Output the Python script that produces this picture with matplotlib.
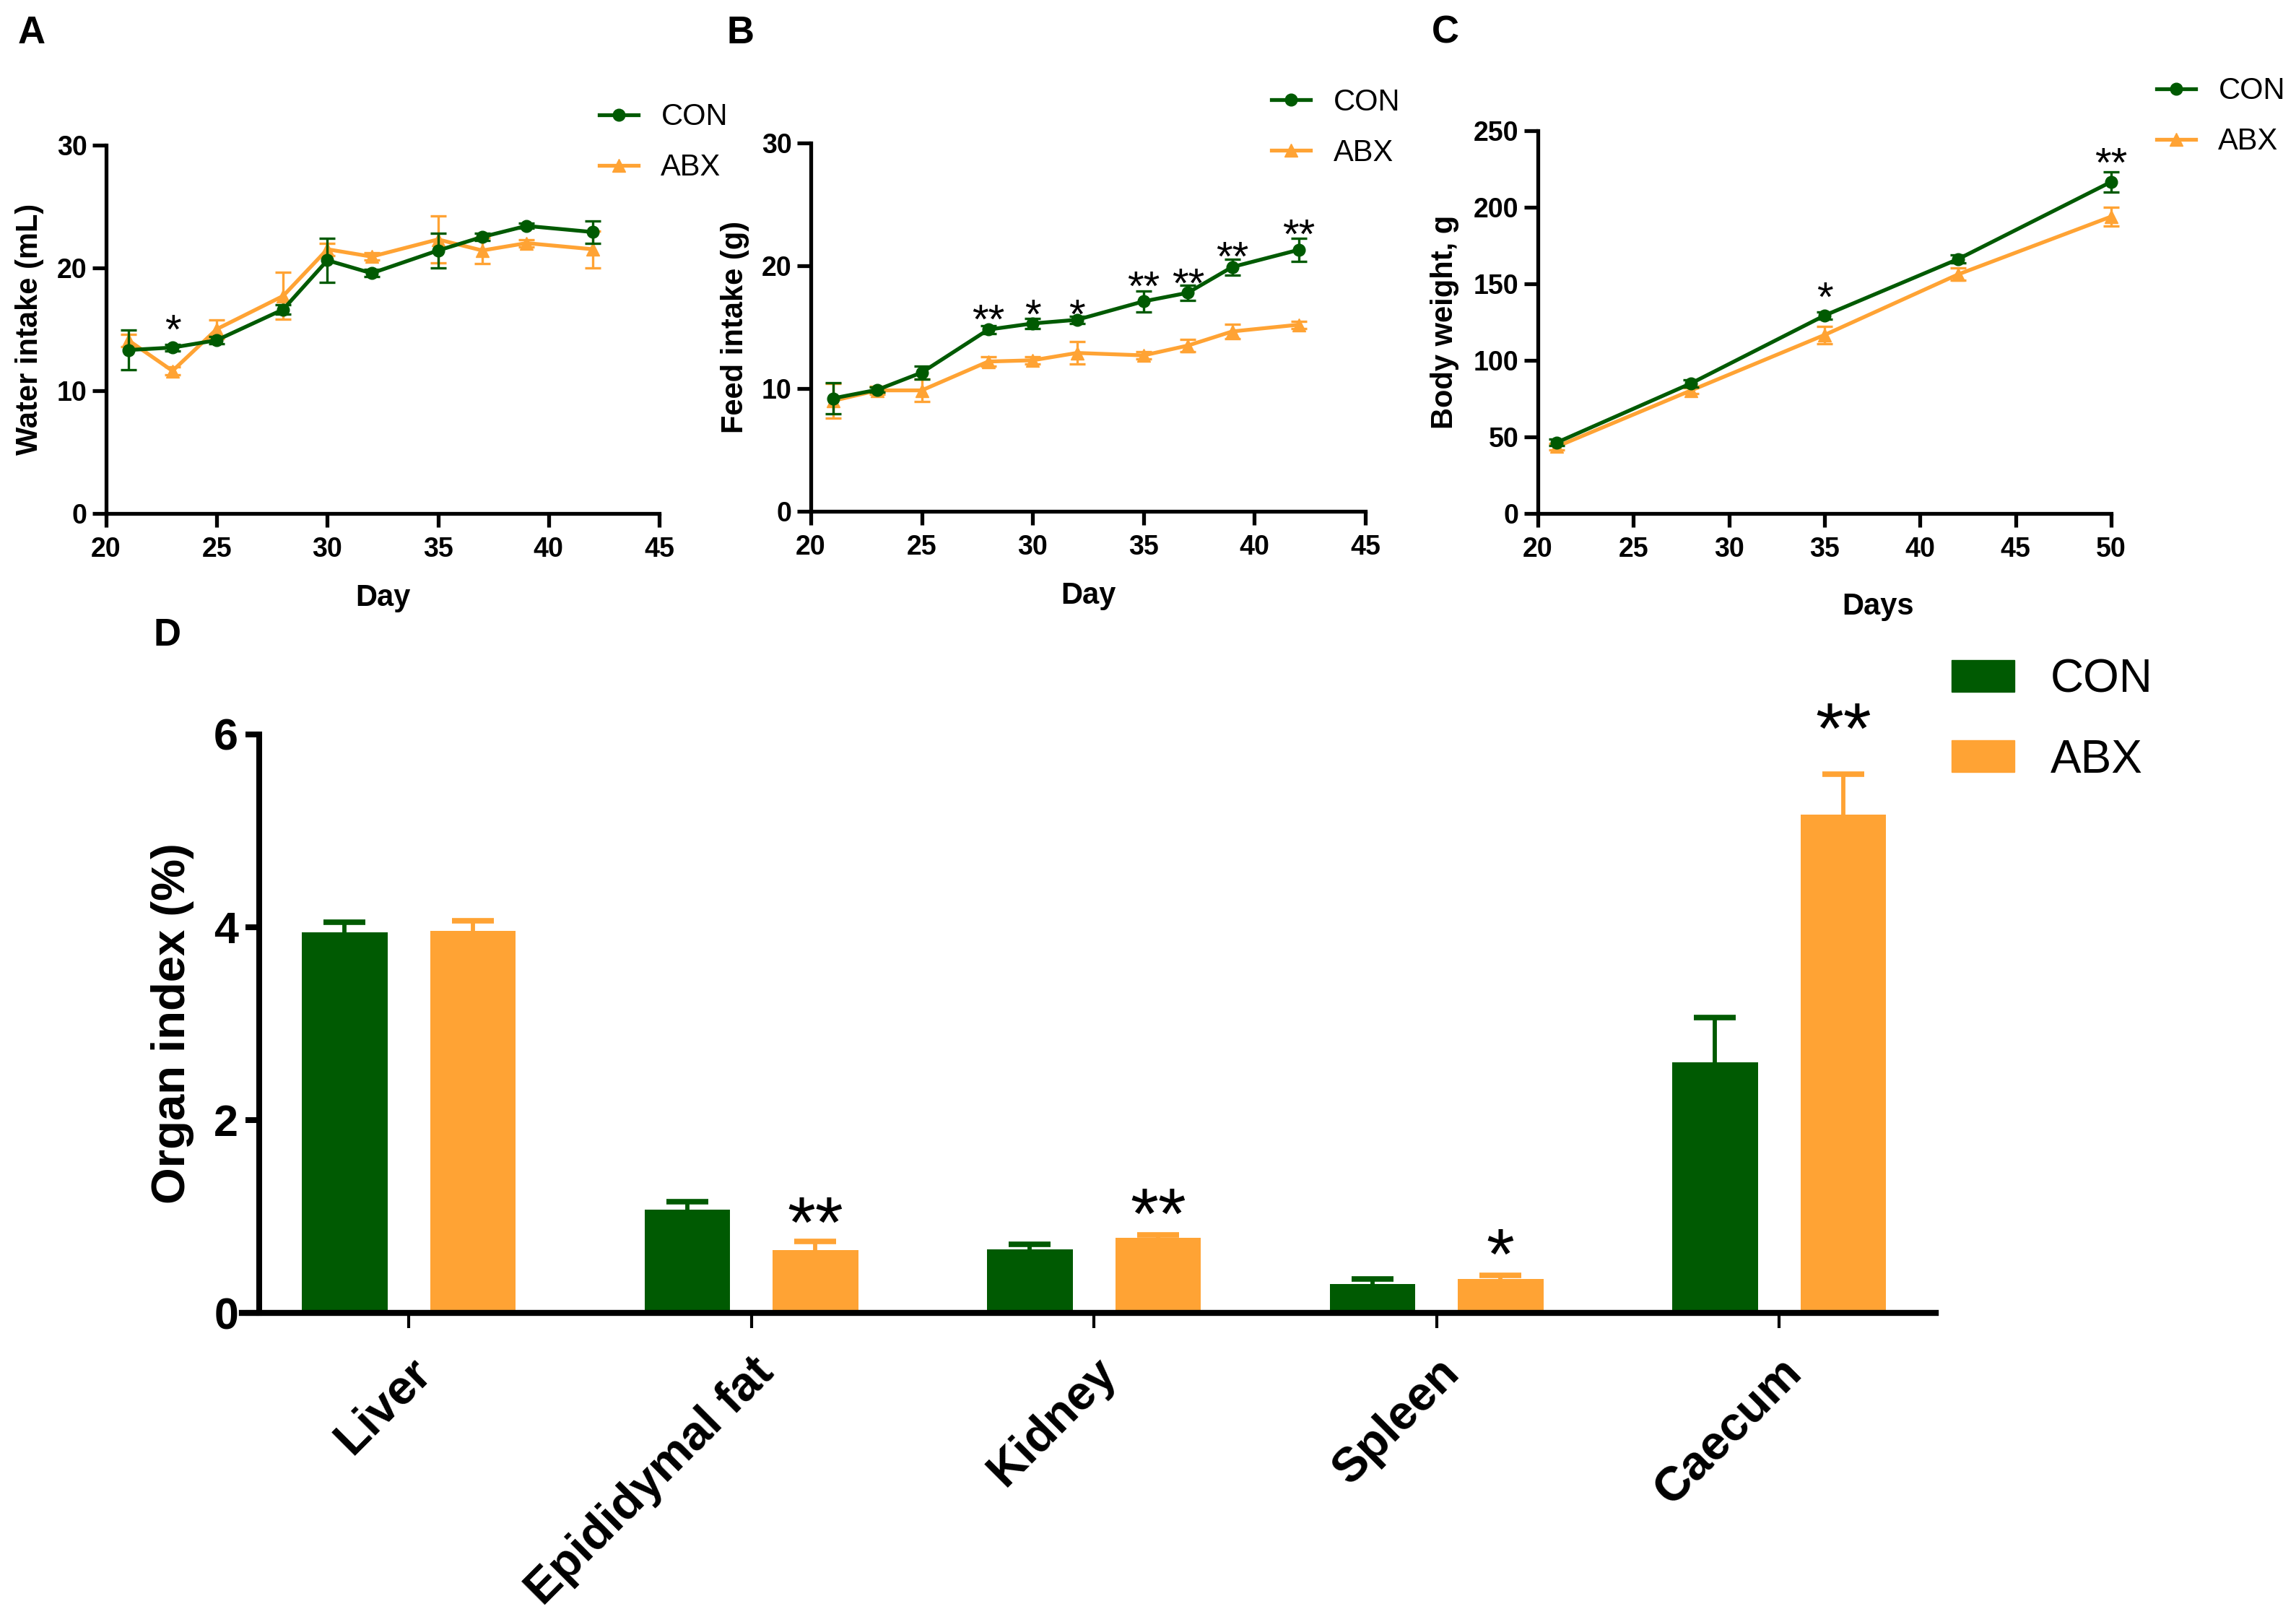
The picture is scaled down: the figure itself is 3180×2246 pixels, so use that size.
import numpy as np
import matplotlib
matplotlib.use('Agg')
import matplotlib.pyplot as plt
from matplotlib.patches import Patch

plt.rcParams['font.family'] = ['Liberation Sans', 'DejaVu Sans']

GREEN = '#005A02'
ORANGE = '#FFA334'

# ---------------- data ----------------
# Panel A: water intake
water_days = [21, 23, 25, 28, 30, 32, 35, 37, 39, 42]
water_con = [13.3, 13.5, 14.1, 16.6, 20.6, 19.55, 21.4, 22.5, 23.4, 22.9]
water_con_err = [1.6, 0.25, 0.3, 0.4, 1.8, 0.3, 1.4, 0.3, 0.2, 0.9]
water_abx = [14.1, 11.6, 15.0, 17.7, 21.5, 20.9, 22.3, 21.4, 22.0, 21.5]
water_abx_err = [0.5, 0.3, 0.75, 1.9, 0.5, 0.3, 1.9, 1.05, 0.3, 1.5]
water_star_days = [23]
water_star_labels = ['*']
water_star_y = [15.8]

# Panel B: feed intake
feed_days = [21, 23, 25, 28, 30, 32, 35, 37, 39, 42]
feed_con = [9.2, 9.9, 11.3, 14.8, 15.3, 15.6, 17.1, 17.8, 19.9, 21.3]
feed_con_err = [1.25, 0.2, 0.55, 0.3, 0.4, 0.3, 0.85, 0.6, 0.65, 0.95]
feed_abx = [9.0, 9.85, 9.85, 12.2, 12.3, 12.9, 12.7, 13.5, 14.65, 15.2]
feed_abx_err = [1.4, 0.3, 0.9, 0.4, 0.3, 0.9, 0.3, 0.5, 0.6, 0.3]
feed_star_days = [28, 30, 32, 35, 37, 39, 42]
feed_star_labels = ['**', '*', '*', '**', '**', '**', '**']
feed_star_y = [16.5, 16.9, 16.9, 19.2, 19.4, 21.6, 23.4]

# Panel C: body weight
bw_days = [21, 28, 35, 42, 50]
bw_con = [46.4, 84.9, 129.3, 166.2, 216.6]
bw_con_err = [2.0, 2.5, 2.5, 2.5, 6.5]
bw_abx = [43.7, 80.3, 116.6, 156.2, 193.9]
bw_abx_err = [2.0, 2.0, 5.7, 4.0, 6.0]
bw_star_days = [35, 50]
bw_star_labels = ['*', '**']
bw_star_y = [148, 236]

# Panel D: organ index
organs = ['Liver', 'Epididymal fat', 'Kidney', 'Spleen', 'Caecum']
organ_con = [3.95, 1.07, 0.66, 0.30, 2.60]
organ_con_err = [0.10, 0.08, 0.05, 0.05, 0.46]
organ_abx = [3.96, 0.65, 0.78, 0.35, 5.17]
organ_abx_err = [0.11, 0.09, 0.03, 0.04, 0.42]
organ_star_idx = [1, 2, 3, 4]
organ_star_labels = ['**', '**', '*', '**']
organ_star_y = [1.12, 1.21, 0.79, 6.24]

group_labels = ['CON', 'ABX']

# ---------------- figure ----------------
fig = plt.figure(figsize=(31.8, 22.46), dpi=100)


def add_stars(ax, xs, ys, labels, fs):
    for x, y, s in zip(xs, ys, labels):
        ax.annotate(s, xy=(x, y), xytext=(0, -0.58 * fs), textcoords='offset points',
                    ha='center', va='baseline', fontsize=fs, annotation_clip=False)


def line_panel(rect, days, con, con_err, abx, abx_err, xlim, xticks, ylim, yticks,
               xlabel, ylabel, xlab_pos, ylab_pos, leg_anchor):
    ax = fig.add_axes(rect)
    eb_abx = ax.errorbar(days, abx, yerr=abx_err, color=ORANGE, marker='^', ms=13,
                         lw=3.8, elinewidth=2.4, capsize=8, capthick=2.4, zorder=3,
                         clip_on=False)
    eb_con = ax.errorbar(days, con, yerr=con_err, color=GREEN, marker='o', ms=12,
                         lw=3.8, elinewidth=2.4, capsize=8, capthick=2.4, zorder=4,
                         clip_on=False)
    ax.set_xlim(*xlim)
    ax.set_ylim(*ylim)
    for s in ['top', 'right']:
        ax.spines[s].set_visible(False)
    for s in ['left', 'bottom']:
        ax.spines[s].set_linewidth(3.8)
    ax.set_xticks(xticks, [str(t) for t in xticks], fontsize=27, fontweight='bold')
    ax.set_yticks(yticks, [str(t) for t in yticks], fontsize=27, fontweight='bold')
    ax.tick_params(axis='both', width=3.8, length=14)
    ax.tick_params(axis='y', pad=5)
    ax.tick_params(axis='x', pad=9)
    ax.set_xlabel(xlabel, fontsize=30, fontweight='bold', va='top')
    ax.set_ylabel(ylabel, fontsize=30, fontweight='bold')
    ax.xaxis.set_label_coords(*xlab_pos)
    ax.yaxis.set_label_coords(*ylab_pos)
    ax.legend([eb_con[0], eb_abx[0]], group_labels, loc='center left',
              bbox_to_anchor=leg_anchor, bbox_transform=fig.transFigure,
              frameon=False, fontsize=30, borderpad=0, borderaxespad=0,
              handlelength=1.3, handletextpad=0.75, labelspacing=0.72, numpoints=1)
    return ax


axA = line_panel([0.04623, 0.68344, 0.24088, 0.22729], water_days, water_con, water_con_err,
                 water_abx, water_abx_err, (20, 45), [20, 25, 30, 35, 40, 45],
                 (0, 30), [0, 10, 20, 30], 'Day', 'Water intake (mL)',
                 (0.5, -0.19), (-0.112, 0.5), (0.2610, 0.9121))
add_stars(axA, water_star_days, water_star_y, water_star_labels, 42)

axB = line_panel([0.35314, 0.68477, 0.24151, 0.22707], feed_days, feed_con, feed_con_err,
                 feed_abx, feed_abx_err, (20, 45), [20, 25, 30, 35, 40, 45],
                 (0, 30), [0, 10, 20, 30], 'Day', 'Feed intake (g)',
                 (0.5, -0.19), (-0.111, 0.5), (0.5538, 0.9213))
add_stars(axB, feed_star_days, feed_star_y, feed_star_labels, 42)

axC = line_panel([0.66981, 0.68344, 0.24969, 0.23597], bw_days, bw_con, bw_con_err,
                 bw_abx, bw_abx_err, (20, 50), [20, 25, 30, 35, 40, 45, 50],
                 (0, 250), [0, 50, 100, 150, 200, 250], 'Days', 'Body weight, g',
                 (0.593, -0.205), (-0.137, 0.5), (0.9393, 0.9282))
add_stars(axC, bw_star_days, bw_star_y, bw_star_labels, 42)

# ---------------- panel D ----------------
axD = fig.add_axes([0.10535, 0.19056, 0.73773, 0.35664])
x = np.arange(len(organs))
bw = 0.25
off = 0.187
bars_con = axD.bar(x - off, organ_con, width=bw, color=GREEN, zorder=2)
bars_abx = axD.bar(x + off, organ_abx, width=bw, color=ORANGE, zorder=2)
for xs, vals, errs, col in [(x - off, organ_con, organ_con_err, GREEN),
                            (x + off, organ_abx, organ_abx_err, ORANGE)]:
    eb = axD.errorbar(xs, vals, yerr=[np.zeros(len(vals)), errs], fmt='none',
                      ecolor=col, elinewidth=4.2, capsize=21, capthick=5.5, zorder=3)
    for cl in eb[1]:
        if np.allclose(cl.get_ydata(), vals):
            cl.set_visible(False)

axD.set_xlim(-0.487, 4.457)
axD.set_ylim(0, 6)
axD.spines['top'].set_visible(False)
axD.spines['right'].set_visible(False)
axD.spines['left'].set_position(('data', -0.436))
axD.spines['left'].set_linewidth(5.8)
axD.spines['bottom'].set_linewidth(6.0)
axD.set_yticks([0, 2, 4, 6], ['0', '2', '4', '6'], fontsize=44, fontweight='bold')
axD.tick_params(axis='y', width=5.8, length=14, pad=7)
axD.set_xticks(x, organs, fontsize=48, fontweight='bold', rotation=45,
               ha='right', rotation_mode='anchor')
axD.tick_params(axis='x', width=3, length=15, pad=22)
axD.set_ylabel('Organ index (%)', fontsize=47, fontweight='bold')
axD.yaxis.set_label_coords(-0.028, 0.5)
add_stars(axD, x[organ_star_idx] + off, organ_star_y, organ_star_labels, 72)

axD.legend(handles=[Patch(color=GREEN), Patch(color=ORANGE)], labels=group_labels,
           loc='center left', bbox_to_anchor=(0.85, 0.5561), bbox_transform=fig.transFigure,
           frameon=False, fontsize=46, borderpad=0, borderaxespad=0,
           handlelength=1.36, handleheight=0.67, handletextpad=0.78, labelspacing=0.8)

# ---------------- panel letters ----------------
for letter, px, py in [('A', 25, 60), ('B', 1006, 60), ('C', 1983, 60), ('D', 212, 894)]:
    fig.text(px / 3180, 1 - py / 2246, letter, fontsize=38, fontweight='bold',
             ha='left', va='baseline')

fig.savefig('out.png', dpi=100)
